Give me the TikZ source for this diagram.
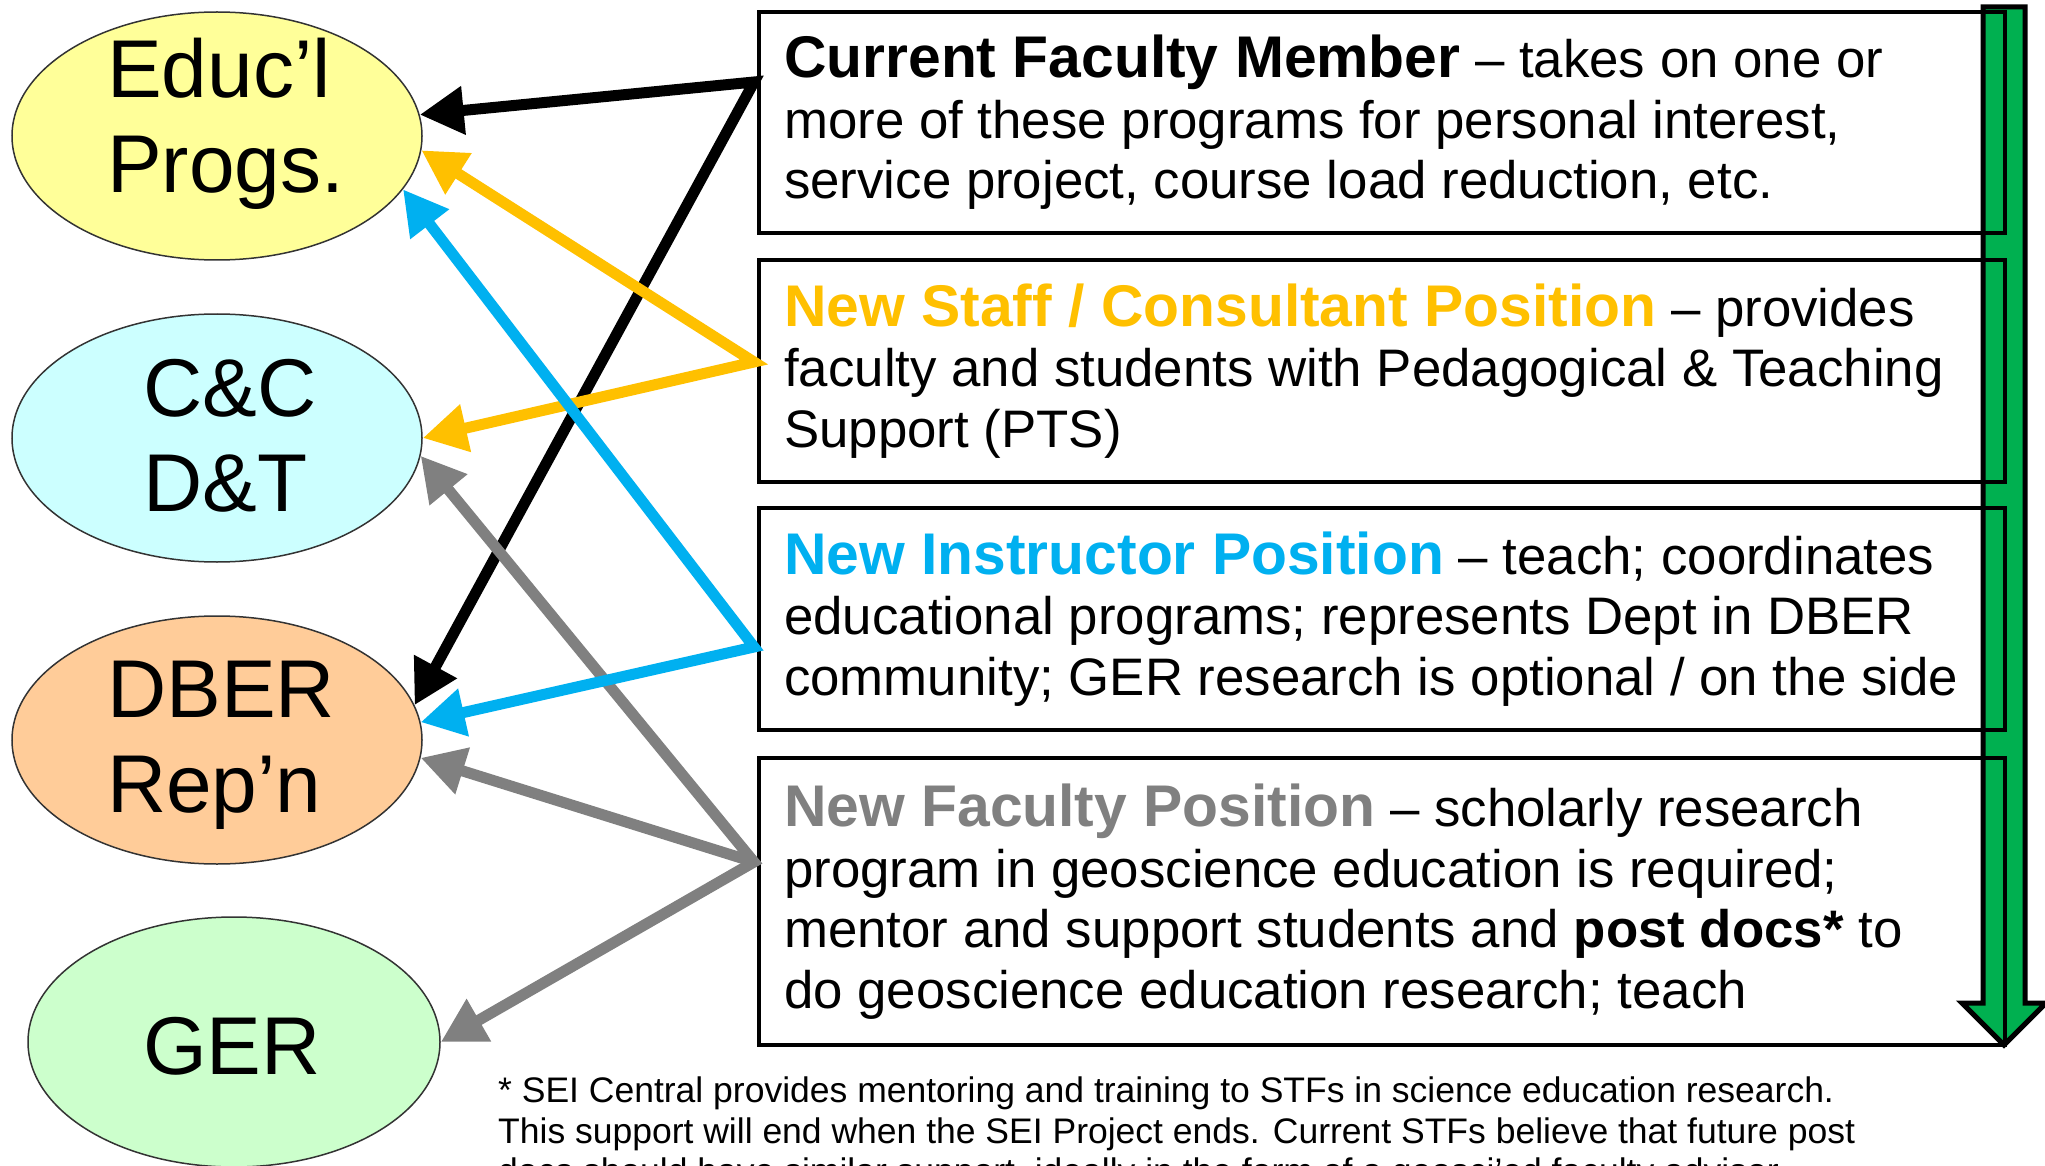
\documentclass[tikz,border=0pt]{standalone}
\usepackage{fontspec}
\setmainfont{Liberation Sans}
\usetikzlibrary{shapes.geometric,arrows.meta}
\definecolor{ygold}{HTML}{FFC000}
\definecolor{skyb}{HTML}{00B0F0}
\definecolor{grayc}{HTML}{808080}
\definecolor{grn}{HTML}{00B050}
\definecolor{eyel}{HTML}{FFFF99}
\definecolor{ecya}{HTML}{CCFFFF}
\definecolor{eora}{HTML}{FFCC99}
\definecolor{egrn}{HTML}{CCFFCC}
\newcommand\bxfont{\fontsize{52.8}{60.6}\selectfont}
\newcommand\hdfont{\fontsize{58.8}{60.6}\selectfont\bfseries}
\newcommand\elfont{\fontsize{82}{95}\selectfont}
\newcommand\ftfont{\fontsize{35.5}{40.5}\selectfont}
\tikzset{
  ell/.style={ellipse, draw=black!80, line width=1.5pt, inner sep=0pt, minimum width=410pt, minimum height=248pt},
  eltext/.style={anchor=west, align=left, inner sep=0pt, font=\elfont},
  box/.style={draw=black, line width=3.5pt, minimum width=1246pt, inner sep=0pt},
  boxtext/.style={anchor=west, align=left, inner sep=0pt, font=\bxfont},
  conn/.style={line width=11pt, line join=miter, arrows={Triangle[length=44pt,width=46pt]-Triangle[length=44pt,width=46pt]}},
  onearr/.style={line width=11pt, arrows={-Triangle[length=44pt,width=46pt]}},
  bigarrow/.style={fill=grn, draw=black, line width=5pt, line join=miter}
}
\begin{document}
\begin{tikzpicture}[x=1pt,y=-1pt]
\useasboundingbox (0,0) rectangle (2045,1166);
\fill[white] (0,0) rectangle (2045,1166);

% green downward arrow
\draw[bigarrow] (1983,7) -- (2025,7) -- (2025,1003) -- (2046,1003) -- (2004,1045) -- (1962,1003) -- (1983,1003) -- cycle;

% boxes
\node[box, minimum height=221pt] (b1) at (1382,122.5) {};
\node[box, minimum height=222pt] (b2) at (1382,371) {};
\node[box, minimum height=222pt] (b3) at (1382,619) {};
\node[box, minimum height=287pt] (b4) at (1382,901.5) {};

\node[boxtext] (bt1) at (784,122.5) {{\hdfont Current Faculty Member} – takes on one or\\more of these programs for personal interest,\\service project, course load reduction, etc.};
\node[boxtext] (bt2) at (784,371) {{\hdfont\color{ygold}New Staff / Consultant Position} – provides\\faculty and students with Pedagogical \& Teaching\\Support (PTS)};
\node[boxtext] (bt3) at (784,619) {{\hdfont\color{skyb}New Instructor Position} – teach; coordinates\\educational programs; represents Dept in DBER\\community; GER research is optional / on the side};
\node[boxtext] (bt4) at (784,901.5) {{\hdfont\color{grayc}New Faculty Position} – scholarly research\\program in geoscience education is required;\\mentor and support students and \textbf{post docs*} to\\do geoscience education research; teach};

% ellipses
\node[ell, fill=eyel] (e1) at (217,136) {};
\node[ell, fill=ecya] (e2) at (217,438) {};
\node[ell, fill=eora] (e3) at (217,740) {};
\node[ell, fill=egrn, minimum width=412pt, minimum height=250pt] (e4) at (234,1042) {};
\node[eltext] (t1) at (107,124) {Educ’l\\Progs.};
\node[eltext] (t2) at (143,436) {C\&C\\D\&T};
\node[eltext] (t3) at (107,745) {DBER\\Rep’n};
\node[eltext] (t4) at (143,1046) {GER};

% connector sources on the box edges
\coordinate (s1) at (754,82);
\coordinate (s2) at (754,362);
\coordinate (s3) at (754,647);
\coordinate (s4) at (754,862);

% connectors
\draw[conn, black] (e1.6) -- (s1) -- (e3.10);
\draw[conn, grayc] (e2.355) -- (s4) -- (e4.0);
\draw[onearr, grayc] (s4) -- (e3.355);
\draw[conn, ygold] (e1.356) -- (s2) -- (e2.0);
\draw[conn, skyb] (e1.344) -- (s3) -- (e3.5);

% footnote
\node[anchor=north west, align=left, inner sep=0pt, font=\ftfont] (fn) at (498,1077) {* SEI Central provides mentoring and training to STFs in science education research.\\This support will end when the SEI Project ends. Current STFs believe that future post\\docs should have similar support, ideally in the form of a geosci’ed faculty advisor.};
\end{tikzpicture}
\end{document}
